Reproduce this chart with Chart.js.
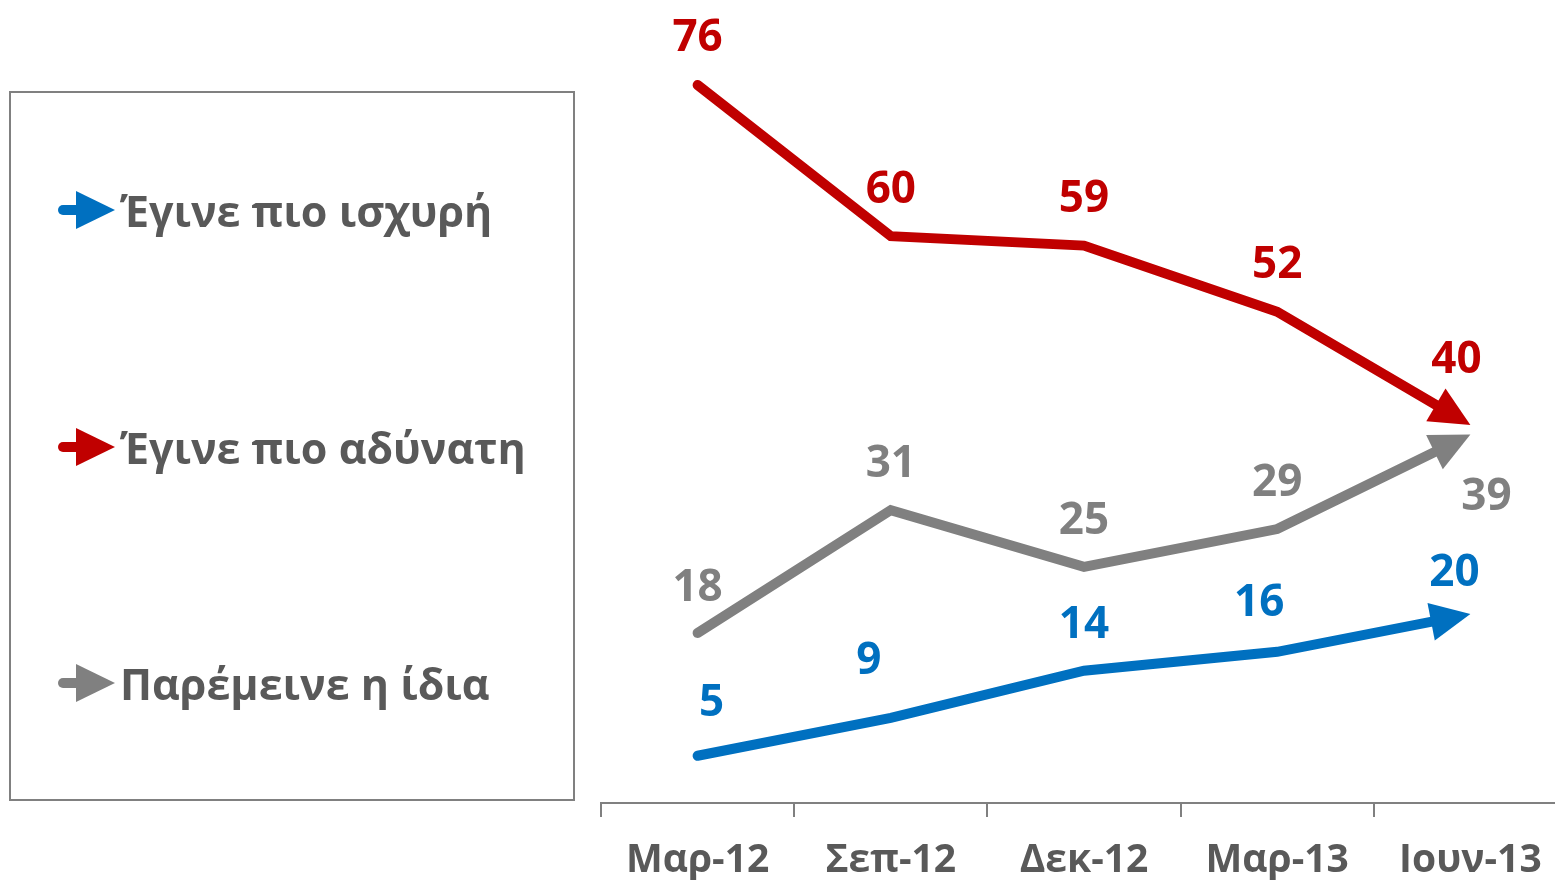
<!DOCTYPE html>
<html>
<head>
<meta charset="utf-8">
<title>Ισχύς</title>
<script src="https://cdn.jsdelivr.net/npm/chart.js@4.4.1/dist/chart.umd.min.js"></script>
<style>
  html, body { margin: 0; padding: 0; background: #fff; overflow: hidden; }
  canvas { display: block; }
</style>
</head>
<body>
<canvas id="chart" width="1567" height="880"></canvas>
<script>
// data
const categories = ['Μαρ-12', 'Σεπ-12', 'Δεκ-12', 'Μαρ-13', 'Ιουν-13'];
const seriesNames = ['Έγινε πιο ισχυρή', 'Έγινε πιο αδύνατη', 'Παρέμεινε η ίδια'];
const strongerValues = [5, 9, 14, 16, 20];
const weakerValues = [76, 60, 59, 52, 40];
const sameValues = [18, 31, 25, 29, 39];

const BLUE = '#0070C0';
const RED = '#C00000';
const GRAY = '#808080';
const FONT = "'Open Sans', 'Noto Sans', sans-serif";

// label offsets from each point (dx, dy to label centre)
const labelOffsets = [
  [[14, -56], [-22, -60], [0, -49], [-18, -52], [-16, -44]],
  [[0, -50], [0, -49], [0, -50], [0, -50], [-14, -68]],
  [[0, -48], [0, -49], [0, -49], [0, -49], [16, 59]]
];

const ARROW_LEN = 40;
const ARROW_HALF = 19;

function lastSegment(meta) {
  const pts = meta.data;
  const a = pts[pts.length - 2], b = pts[pts.length - 1];
  const dx = b.x - a.x, dy = b.y - a.y;
  const len = Math.hypot(dx, dy);
  return { tip: b, ux: dx / len, uy: dy / len };
}

// cut the line short near the arrow tip, then draw the arrow head
const arrowPlugin = {
  id: 'arrowHeads',
  beforeDatasetDraw(chart, args) {
    const ctx = chart.ctx;
    const { tip, ux, uy } = lastSegment(args.meta);
    const px = -uy, py = ux;
    const bx = tip.x - ux * (ARROW_LEN - 4), by = tip.y - uy * (ARROW_LEN - 4);
    ctx.save();
    ctx.beginPath();
    ctx.rect(0, 0, chart.width, chart.height);
    ctx.moveTo(bx + px * 15, by + py * 15);
    ctx.lineTo(bx + px * 15 + ux * 60, by + py * 15 + uy * 60);
    ctx.lineTo(bx - px * 15 + ux * 60, by - py * 15 + uy * 60);
    ctx.lineTo(bx - px * 15, by - py * 15);
    ctx.closePath();
    ctx.clip('evenodd');
  },
  afterDatasetDraw(chart, args) {
    const ctx = chart.ctx;
    ctx.restore();
    const { tip, ux, uy } = lastSegment(args.meta);
    const px = -uy, py = ux;
    const bx = tip.x - ux * ARROW_LEN, by = tip.y - uy * ARROW_LEN;
    ctx.save();
    ctx.fillStyle = args.meta.dataset.options.borderColor;
    ctx.beginPath();
    ctx.moveTo(tip.x, tip.y);
    ctx.lineTo(bx + px * ARROW_HALF, by + py * ARROW_HALF);
    ctx.lineTo(bx - px * ARROW_HALF, by - py * ARROW_HALF);
    ctx.closePath();
    ctx.fill();
    ctx.restore();
  }
};

const valueLabels = {
  id: 'valueLabels',
  afterDatasetsDraw(chart) {
    const ctx = chart.ctx;
    ctx.save();
    ctx.font = 'bold 44px ' + FONT;
    ctx.textAlign = 'center';
    ctx.textBaseline = 'alphabetic';
    chart.data.datasets.forEach((ds, i) => {
      const meta = chart.getDatasetMeta(i);
      ctx.fillStyle = ds.borderColor;
      meta.data.forEach((pt, j) => {
        const off = labelOffsets[i][j];
        ctx.fillText(String(ds.data[j]), pt.x + off[0], pt.y + off[1] + 16);
      });
    });
    ctx.restore();
  }
};

// framed legend on the left, arrow markers
const boxLegend = {
  id: 'boxLegend',
  afterDraw(chart) {
    const ctx = chart.ctx;
    ctx.save();
    ctx.strokeStyle = '#808080';
    ctx.lineWidth = 2;
    ctx.strokeRect(10, 92, 564, 708);
    const rows = [210, 447, 683];
    chart.data.datasets.forEach((ds, i) => {
      const y = rows[i];
      ctx.strokeStyle = ds.borderColor;
      ctx.fillStyle = ds.borderColor;
      ctx.lineWidth = 10;
      ctx.lineCap = 'round';
      ctx.beginPath();
      ctx.moveTo(63, y);
      ctx.lineTo(80, y);
      ctx.stroke();
      ctx.beginPath();
      ctx.moveTo(76, y - ARROW_HALF);
      ctx.lineTo(115, y);
      ctx.lineTo(76, y + ARROW_HALF);
      ctx.closePath();
      ctx.fill();
      ctx.fillStyle = '#595959';
      ctx.font = 'bold 43px ' + FONT;
      ctx.textAlign = 'left';
      ctx.textBaseline = 'alphabetic';
      ctx.fillText(ds.label, 120, y + 17);
    });
    ctx.restore();
  }
};

function lineSet(label, data, color) {
  return {
    label: label,
    data: data,
    borderColor: color,
    backgroundColor: color,
    borderWidth: 10,
    borderCapStyle: 'round',
    borderJoinStyle: 'miter',
    pointRadius: 0,
    pointHoverRadius: 0,
    tension: 0,
    fill: false
  };
}

new Chart(document.getElementById('chart'), {
  type: 'line',
  data: {
    labels: categories,
    datasets: [
      lineSet(seriesNames[0], strongerValues, BLUE),
      lineSet(seriesNames[1], weakerValues, RED),
      lineSet(seriesNames[2], sameValues, GRAY)
    ]
  },
  options: {
    responsive: false,
    animation: false,
    events: [],
    layout: { padding: { left: 601, right: 0, top: 0, bottom: 0 } },
    plugins: {
      legend: { display: false },
      tooltip: { enabled: false }
    },
    scales: {
      x: {
        offset: true,
        afterFit(scale) { scale.height = 77; },
        grid: {
          offset: true,
          drawOnChartArea: false,
          drawTicks: true,
          tickLength: 14,
          color: '#808080',
          lineWidth: 2
        },
        border: { display: true, color: '#808080', width: 2 },
        ticks: {
          color: '#595959',
          font: { family: FONT, size: 39, weight: 'bold' },
          padding: 20,
          maxRotation: 0,
          autoSkip: false
        }
      },
      y: {
        display: false,
        min: 0,
        max: 85
      }
    }
  },
  plugins: [arrowPlugin, valueLabels, boxLegend]
});
</script>
</body>
</html>
